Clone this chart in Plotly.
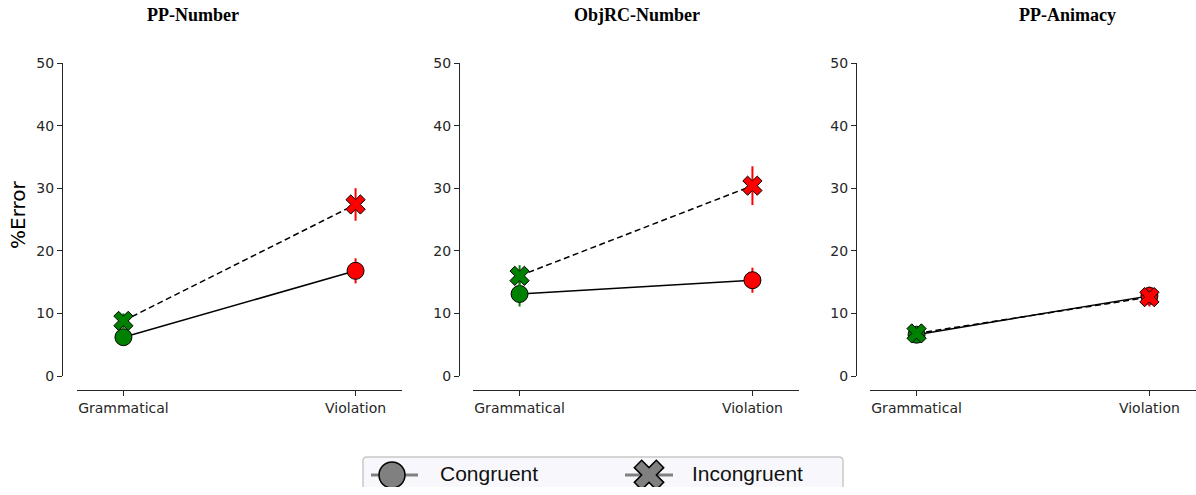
import plotly.graph_objects as go

# ---------------- data ----------------
panels = ["PP-Number", "ObjRC-Number", "PP-Animacy"]
conditions = ["Grammatical", "Violation"]
series_names = ["Congruent", "Incongruent"]

congruent_mean = [[6.2, 16.8], [13.1, 15.3], [6.6, 12.8]]
congruent_err = [[1.0, 2.0], [2.0, 2.0], [1.0, 1.5]]
incongruent_mean = [[8.8, 27.4], [16.0, 30.4], [6.8, 12.6]]
incongruent_err = [[1.2, 2.6], [1.7, 3.1], [1.0, 1.5]]

y_ticks = [0, 10, 20, 30, 40, 50]
y_label = "%Error"

# ---------------- style ----------------
W, H = 1196, 495
TOP_OFF, H_EFF = 8, 479          # observed vertical placement of the plot area in the page
point_colors = ["#008000", "#ff0000"]
symbols = ["circle", "x"]
dashes = ["solid", "6px,3.5px"]
tick_font = dict(family="DejaVu Sans", size=14, color="#262626")
axis_color = "#262626"

# pixel geometry -> paper fractions
x_domains_px = [(77, 402), (473, 799), (870, 1196)]
y_spine_px = [62, 459, 856]
y_top_px, y_bot_px = 63, 376
x_spine_px = 390
title_x_px = [193, 637, 1067]

def px(x):
    return x / W

def py(y):
    return 1 - (y - TOP_OFF) / H_EFF

fig = go.Figure()
means_all = [congruent_mean, incongruent_mean]
errs_all = [congruent_err, incongruent_err]
x_idx = list(range(len(conditions)))

for i in range(len(panels)):
    sfx = "" if i == 0 else str(i + 1)
    xa, ya = "x" + sfx, "y" + sfx
    # connecting lines
    for s in range(2):
        fig.add_trace(go.Scatter(
            x=x_idx, y=means_all[s][i], mode="lines",
            line=dict(color="black", width=1.5, dash=dashes[s]),
            xaxis=xa, yaxis=ya, showlegend=False, hoverinfo="skip"))
    # points with error bars
    for s in range(2):
        for j in range(len(conditions)):
            fig.add_trace(go.Scatter(
                x=[x_idx[j]], y=[means_all[s][i][j]], mode="markers",
                marker=dict(symbol=symbols[s], size=17, color=point_colors[j],
                            line=dict(color="black", width=1)),
                error_y=dict(type="data", array=[errs_all[s][i][j]],
                             color=point_colors[j], thickness=2, width=0),
                xaxis=xa, yaxis=ya, showlegend=False,
                name=series_names[s]))
    d0, d1 = x_domains_px[i]
    fig.layout["xaxis" + sfx] = dict(
        domain=[px(d0), px(d1)], range=[-0.2, 1.2], anchor="free",
        position=py(x_spine_px), tickmode="array", tickvals=x_idx,
        ticktext=conditions, showline=True, linecolor=axis_color, linewidth=1.2,
        ticks="outside", ticklen=5, tickcolor=axis_color, tickwidth=1.2,
        showgrid=False, zeroline=False, tickfont=tick_font, fixedrange=True)
    fig.layout["yaxis" + sfx] = dict(
        domain=[py(y_bot_px), py(y_top_px)], range=[0, 50], anchor="free",
        position=px(y_spine_px[i]), tickmode="array", tickvals=y_ticks,
        showline=True, linecolor=axis_color, linewidth=1.2,
        ticks="outside", ticklen=5, tickcolor=axis_color, tickwidth=1.2,
        showgrid=False, zeroline=False, tickfont=tick_font, fixedrange=True)
    fig.add_annotation(
        text="<b>" + panels[i] + "</b>", xref="paper", yref="paper",
        x=px(title_x_px[i]), y=py(15), xanchor="center", yanchor="middle",
        showarrow=False,
        font=dict(family="Liberation Serif, Times New Roman, serif", size=18, color="black"))

# y label
fig.add_annotation(text=y_label, xref="paper", yref="paper", x=px(18), y=py(215),
                   xanchor="center", yanchor="middle", textangle=-90, showarrow=False,
                   font=dict(family="DejaVu Sans", size=20, color="black"))

# ---------------- custom legend (hidden pixel axis) ----------------
lg_left, lg_right, lg_top = 360, 846, 453
fig_bottom = TOP_OFF + H_EFF
fig.layout["xaxis4"] = dict(domain=[px(lg_left), px(lg_right)], range=[0, lg_right - lg_left],
                            visible=False, fixedrange=True, anchor="y4")
fig.layout["yaxis4"] = dict(domain=[0, py(lg_top)], range=[0, fig_bottom - lg_top],
                            visible=False, fixedrange=True, anchor="x4")

def lx(x):
    return x - lg_left

def ly(y):
    return fig_bottom - y

# box with rounded top corners (runs off the bottom)
bx0, bx1, by1, by0, r = lx(363), lx(843), ly(457), ly(520), 4
path = (f"M {bx0},{by0} L {bx0},{by1 - r} Q {bx0},{by1} {bx0 + r},{by1} "
        f"L {bx1 - r},{by1} Q {bx1},{by1} {bx1},{by1 - r} L {bx1},{by0} Z")
fig.add_shape(type="path", path=path, xref="x4", yref="y4",
              fillcolor="#f8f8fc", line=dict(color="#c8c8c8", width=1.5), layer="below")

legend_items = [(371, 418, 392, 438), (625, 673, 649, 690)]
for s, (l0, l1, mc, tx) in enumerate(legend_items):
    fig.add_trace(go.Scatter(x=[lx(l0), lx(l1)], y=[ly(475), ly(475)], mode="lines",
                             line=dict(color="#808080", width=3), xaxis="x4", yaxis="y4",
                             showlegend=False, hoverinfo="skip"))
    fig.add_trace(go.Scatter(x=[lx(mc)], y=[ly(475)], mode="markers",
                             marker=dict(symbol=symbols[s], size=26, color="#808080",
                                         line=dict(color="black", width=1.5)),
                             xaxis="x4", yaxis="y4", showlegend=False, hoverinfo="skip"))
    fig.add_annotation(text=series_names[s], xref="x4", yref="y4", x=lx(tx), y=ly(473),
                       xanchor="left", yanchor="middle", showarrow=False,
                       font=dict(family="Liberation Sans, Arial, sans-serif", size=21, color="#111111"))

fig.update_layout(width=W, height=H, margin=dict(l=0, r=0, t=0, b=0),
                  paper_bgcolor="white", plot_bgcolor="white", showlegend=False)

fig.write_html("out.html")
